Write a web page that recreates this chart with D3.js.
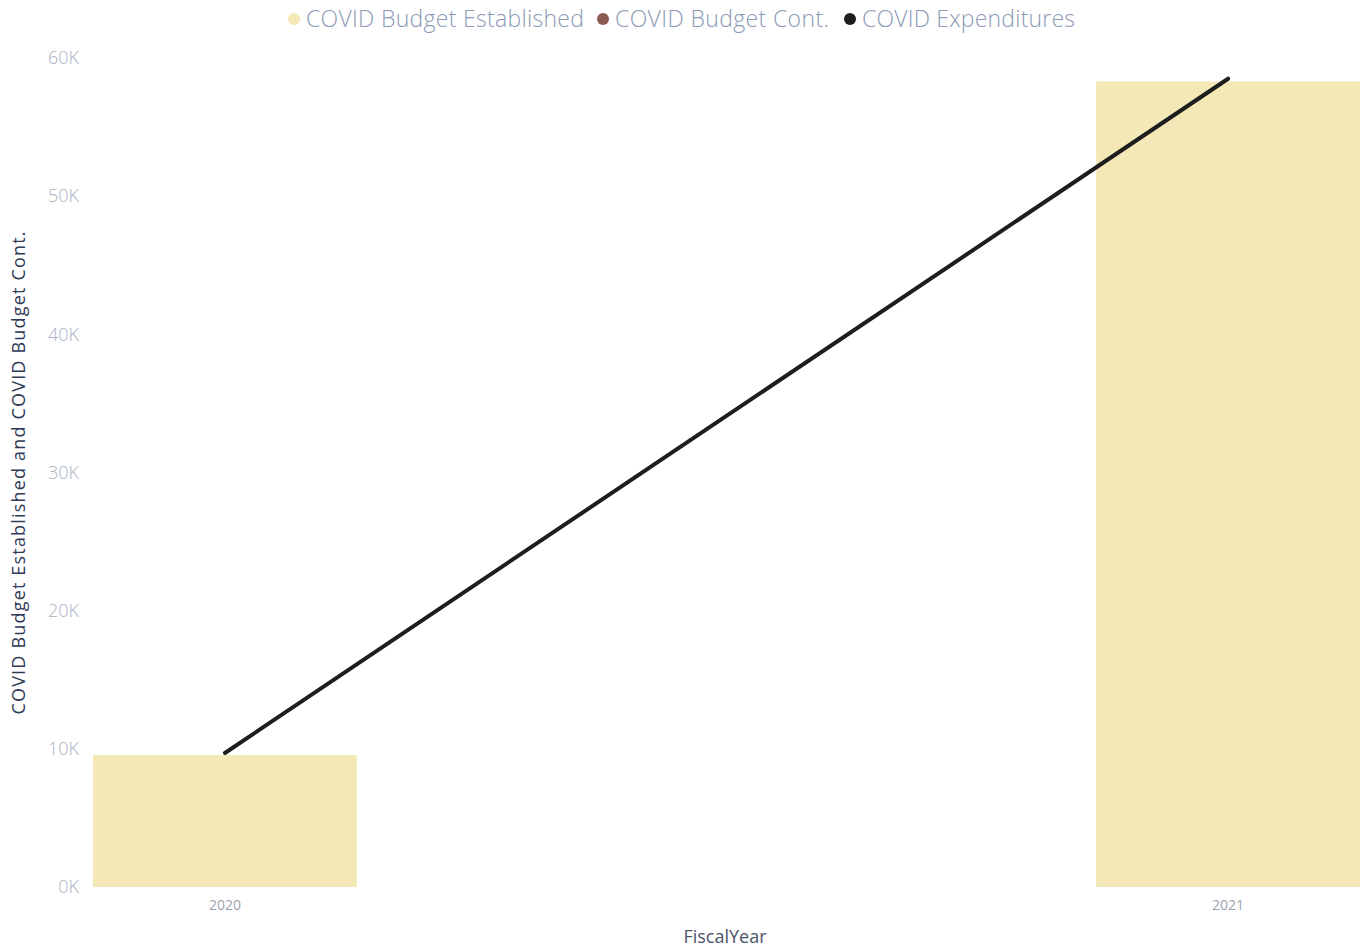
<!DOCTYPE html>
<html>
<head>
<meta charset="utf-8">
<script src="https://cdn.jsdelivr.net/npm/d3@7"></script>
<style>
  body { margin: 0; background: #fff; }
  text { font-family: "Open Sans", "Noto Sans", sans-serif; }
</style>
</head>
<body>
<svg id="viz"></svg>
<script>
// chart data
let years = ["2020", "2021"];
let budgetEstablished = [9550, 58300];
let budgetCont = [0, 0];
let expenditures = [9700, 58500];
let yTicks = [0, 10000, 20000, 30000, 40000, 50000, 60000];
let seriesNames = ["COVID Budget Established", "COVID Budget Cont.", "COVID Expenditures"];
let seriesColors = ["#F3E8B6", "#8A5A53", "#1E1E1E"];

let width = 1361, height = 949;
let svg = d3.select("#viz").attr("width", width).attr("height", height);

// scales
let x = d3.scaleBand()
  .domain(years)
  .range([93, 1360])
  .paddingInner(0.737)
  .paddingOuter(0);

let y = d3.scaleLinear()
  .domain([0, 60000])
  .range([887, 58]);

// y axis labels
let yAxis = svg.append("g")
  .attr("transform", "translate(80,0)")
  .call(d3.axisLeft(y).tickValues(yTicks).tickSize(0).tickPadding(1)
    .tickFormat(d => (d / 1000) + "K"));
yAxis.select(".domain").remove();
yAxis.selectAll("text")
  .attr("fill", "#A9B2C2")
  .style("font-size", "18px")
  .style("font-weight", 300);

// x axis labels
let xAxis = svg.append("g")
  .attr("transform", "translate(0,898)")
  .call(d3.axisBottom(x).tickSize(0).tickPadding(2));
xAxis.select(".domain").remove();
xAxis.selectAll("text")
  .attr("fill", "#9AA3B0")
  .style("font-size", "14px");

// bars
svg.append("g").selectAll("rect")
  .data(years)
  .enter().append("rect")
  .attr("x", d => x(d))
  .attr("width", x.bandwidth())
  .attr("y", (d, i) => y(budgetEstablished[i]))
  .attr("height", (d, i) => y(0) - y(budgetEstablished[i]))
  .attr("fill", seriesColors[0]);

// cont. (stacked, zero values)
svg.append("g").selectAll("rect")
  .data(years)
  .enter().append("rect")
  .attr("x", d => x(d))
  .attr("width", x.bandwidth())
  .attr("y", (d, i) => y(budgetEstablished[i] + budgetCont[i]))
  .attr("height", (d, i) => y(budgetEstablished[i]) - y(budgetEstablished[i] + budgetCont[i]))
  .attr("fill", seriesColors[1]);

// expenditures line
let line = d3.line()
  .x((d, i) => x(years[i]) + x.bandwidth() / 2)
  .y(d => y(d));
svg.append("path")
  .datum(expenditures)
  .attr("d", line)
  .attr("fill", "none")
  .attr("stroke", seriesColors[2])
  .attr("stroke-width", 4)
  .attr("stroke-linecap", "round");

// axis titles
svg.append("text")
  .attr("transform", "translate(25,473) rotate(-90)")
  .attr("text-anchor", "middle")
  .attr("fill", "#2F3A55")
  .style("font-size", "18px")
  .attr("textLength", 483)
  .attr("lengthAdjust", "spacing")
  .text("COVID Budget Established and COVID Budget Cont.");

svg.append("text")
  .attr("x", 725)
  .attr("y", 943)
  .attr("text-anchor", "middle")
  .attr("fill", "#4A5468")
  .style("font-size", "18px")
  .text("FiscalYear");

// legend
let legendX = [288, 597, 844];
let legendLen = [278, 214, 213];
let legend = svg.append("g").selectAll("g")
  .data(seriesNames)
  .enter().append("g")
  .attr("transform", (d, i) => "translate(" + legendX[i] + ",19)");
legend.append("circle")
  .attr("cx", 6)
  .attr("cy", 0)
  .attr("r", 6)
  .attr("fill", (d, i) => seriesColors[i]);
legend.append("text")
  .attr("x", 18)
  .attr("y", 0)
  .attr("dy", "0.35em")
  .attr("fill", "#8C9AB5")
  .style("font-size", "23px")
  .style("font-weight", 300)
  .attr("textLength", (d, i) => legendLen[i])
  .attr("lengthAdjust", "spacing")
  .text(d => d);
</script>
</body>
</html>
